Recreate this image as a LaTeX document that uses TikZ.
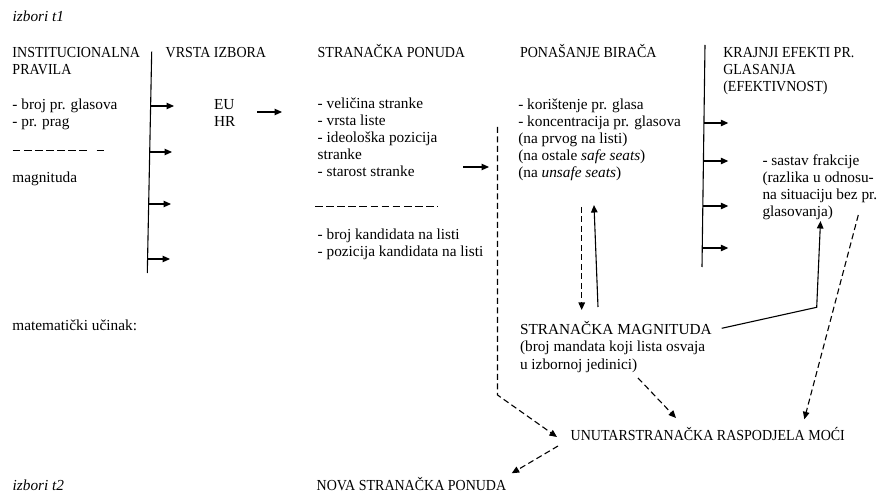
\documentclass[tikz,border=0pt]{standalone}
\usepackage{fontspec}
\setmainfont{Liberation Serif}
\usepackage{graphicx}
\usetikzlibrary{arrows.meta}
\newcommand{\capsx}[1]{\scalebox{0.915}[1]{#1}}
\tikzset{
  txt/.style={anchor=base west, inner sep=0pt, outer sep=0pt, align=left, font=\fontsize{15.3}{17}\selectfont},
  ln/.style={line width=1.1pt},
  arr/.style={ln, -{Triangle[length=7.5pt,width=6.5pt]}},
  darr/.style={arr, dash pattern=on 6pt off 3.5pt},
  uline/.style={line width=0.8pt, dash pattern=on 7.7pt off 3.4pt}
}
\begin{document}
\begin{tikzpicture}[x=1pt,y=-1pt]
\useasboundingbox (0,0) rectangle (892,494);
% texts (multi-line nodes are placed by the baseline of their last line)
\node[txt] (t1) at (12.7,22) {\itshape izbori t1};
\node[txt] (inst) at (12.5,75) {\capsx{INSTITUCIONALNA}\\\capsx{PRAVILA}};
\node[txt] (broj) at (12.5,127) {- broj pr. glasova\\- pr. prag};
\node[txt] (magn) at (12.5,183) {magnituda};
\node[txt] (vrsta) at (165.7,58) {\capsx{VRSTA IZBORA}};
\node[txt] (euhr) at (214,127) {EU\\HR};
\node[txt] (sp) at (317.7,58) {\capsx{STRANAČKA PONUDA}};
\node[txt] (splist) at (317.7,177) {- veličina stranke\\- vrsta liste\\- ideološka pozicija\\stranke\\- starost stranke};
\node[txt] (kand) at (317.7,257) {- broj kandidata na listi\\- pozicija kandidata na listi};
\node[txt] (pb) at (520,58) {\capsx{PONAŠANJE BIRAČA}};
\node[txt] (pblist) at (518.3,177.5) {- korištenje pr. glasa\\- koncentracija pr. glasova\\(na prvog na listi)\\(na ostale \textit{safe seats})\\(na \textit{unsafe seats})};
\node[txt] (ke) at (723.3,92) {\capsx{KRAJNJI EFEKTI PR.}\\\capsx{GLASANJA}\\\capsx{(EFEKTIVNOST)}};
\node[txt] (sf) at (762.5,217) {- sastav frakcije\\(razlika u odnosu-\\na situaciju bez pr.\\glasovanja)};
\node[txt] (mu) at (12.5,331) {matematički učinak:};
\node[txt, font=\fontsize{15.3}{17.4}\selectfont] (sm) at (520,369.1) {STRANAČKA MAGNITUDA\\(broj mandata koji lista osvaja\\u izbornoj jedinici)};
\node[txt] (urm) at (570.7,440) {\capsx{UNUTARSTRANAČKA RASPODJELA MOĆI}};
\node[txt] (t2) at (12.7,490) {\itshape izbori t2};
\node[txt] (nsp) at (316.7,490) {\capsx{NOVA STRANAČKA PONUDA}};
% separator dashes
\draw[uline] (12.7,150.7) -- (88,150.7);
\draw[uline] (96.5,150.7) -- (105.5,150.7);
\draw[uline] (315,206) -- (438,206);
% left bar
\coordinate (b1t) at (151.7,51.7);
\coordinate (b1b) at (147.3,273);
\draw[ln] (b1t) -- (b1b);
\coordinate (a1s) at (150.6,106); \coordinate (a1e) at (174,106);
\coordinate (a2s) at (149.7,152); \coordinate (a2e) at (172,152);
\coordinate (a3s) at (148.7,204); \coordinate (a3e) at (171,204);
\coordinate (a4s) at (147.6,259); \coordinate (a4e) at (170,259);
\draw[arr] (a1s) -- (a1e);
\draw[arr] (a2s) -- (a2e);
\draw[arr] (a3s) -- (a3e);
\draw[arr] (a4s) -- (a4e);
% EU/HR arrow
\coordinate (e1) at (257,112); \coordinate (e2) at (282,112);
\draw[arr] (e1) -- (e2);
% stranacka ponuda arrow
\coordinate (s1) at (463,167); \coordinate (s2) at (489,167);
\draw[arr] (s1) -- (s2);
% right bar
\coordinate (b2t) at (705,45);
\coordinate (b2b) at (702,267);
\draw[ln] (b2t) -- (b2b);
\coordinate (c1s) at (704.4,123); \coordinate (c1e) at (728.3,123);
\coordinate (c2s) at (703.9,161); \coordinate (c2e) at (728.3,161);
\coordinate (c3s) at (703.3,206); \coordinate (c3e) at (728.3,206);
\coordinate (c4s) at (702.7,248); \coordinate (c4e) at (728.3,248);
\draw[arr] (c1s) -- (c1e);
\draw[arr] (c2s) -- (c2e);
\draw[arr] (c3s) -- (c3e);
\draw[arr] (c4s) -- (c4e);
% long dashed path
\coordinate (d1) at (497.5,127);
\coordinate (d2) at (497.5,395);
\coordinate (d3) at (557,437);
\draw[darr] (d1) -- (d2) -- (d3);
% between ponasanje and magnituda
\coordinate (p1) at (581.7,207); \coordinate (p2) at (581.7,310);
\draw[darr] (p1) -- (p2);
\coordinate (q1) at (598,307); \coordinate (q2) at (594,205);
\draw[arr] (q1) -- (q2);
% magnituda to sastav
\coordinate (m1) at (721.7,328.3);
\coordinate (m2) at (816.7,307.3);
\coordinate (m3) at (820.5,221);
\draw[arr] (m1) -- (m2) -- (m3);
% sastav to unutar
\coordinate (r1) at (858.3,215); \coordinate (r2) at (804.3,419.3);
\draw[darr] (r1) -- (r2);
% magnituda to unutar
\coordinate (n1) at (638,378); \coordinate (n2) at (676,418);
\draw[darr] (n1) -- (n2);
% unutar to nova
\coordinate (u1) at (558,446); \coordinate (u2) at (511.7,473.3);
\draw[darr] (u1) -- (u2);
\end{tikzpicture}
\end{document}
